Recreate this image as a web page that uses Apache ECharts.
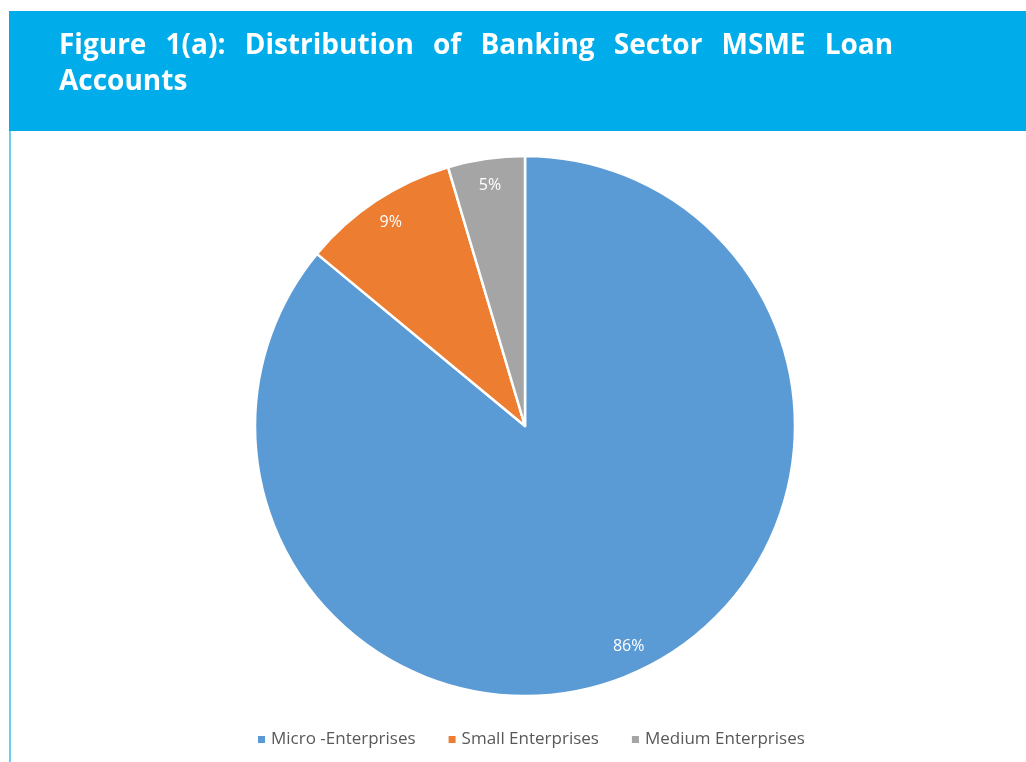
<!DOCTYPE html>
<html><head><meta charset="utf-8">
<script src="https://cdn.jsdelivr.net/npm/echarts@6/dist/echarts.min.js"></script>
<style>html,body{margin:0;padding:0;background:#fff}#c{width:1026px;height:762px}</style>
</head><body><div id="c"></div>
<script>
const categories = ['Micro -Enterprises', 'Small Enterprises', 'Medium Enterprises'];
const shares = [86, 9.4, 4.6];
const colors = ['#5B9BD5', '#ED7D31', '#A5A5A5'];
const titleLine1 = ['Figure', '1(a):', 'Distribution', 'of', 'Banking', 'Sector', 'MSME', 'Loan'];
const titleLine2 = 'Accounts';

const chart = echarts.init(document.getElementById('c'), null, {renderer: 'canvas'});
const data = categories.map((n, i) => ({name: n, value: shares[i], itemStyle: {color: colors[i]}}));
const titleFont = 'bold 28px "Open Sans", sans-serif';
chart.setOption({
  animation: false,
  graphic: [
    {type: 'rect', shape: {x: 9, y: 11, width: 1017, height: 120}, style: {fill: '#00ADEA'}, z: 0},
    {type: 'rect', shape: {x: 9, y: 131, width: 2, height: 631}, style: {fill: '#6CCDF3'}, z: 0},
    {type: 'text', left: 59, top: 32, z: 10, style: {text: titleLine1.join('  \u2009'), font: titleFont, fill: '#fff'}},
    {type: 'text', left: 59, top: 68, z: 10, style: {text: titleLine2, font: titleFont, fill: '#fff'}}
  ],
  legend: {
    bottom: 9, left: 251, itemWidth: 9, itemHeight: 9, itemGap: 31, icon: 'rect',
    textStyle: {color: '#595959', fontSize: 17, fontFamily: '"Open Sans", sans-serif'},
    data: categories
  },
  series: [
    {
      type: 'pie', center: [525, 426], radius: [0, 270], startAngle: 90, clockwise: true,
      label: {show: false}, labelLine: {show: false},
      itemStyle: {borderColor: '#fff', borderWidth: 2.5},
      emphasis: {disabled: true}, data: data
    },
    {
      type: 'pie', center: [525, 426], radius: [211, 270], startAngle: 90, clockwise: true, silent: true,
      itemStyle: {color: 'rgba(0,0,0,0)', borderWidth: 0},
      label: {show: true, position: 'inside', color: '#fff', fontSize: 16, fontFamily: '"Open Sans", sans-serif',
        formatter: p => Math.round(p.value) + '%'},
      labelLine: {show: false}, emphasis: {disabled: true},
      data: categories.map((n, i) => ({name: n, value: shares[i]}))
    }
  ]
});
</script></body></html>
